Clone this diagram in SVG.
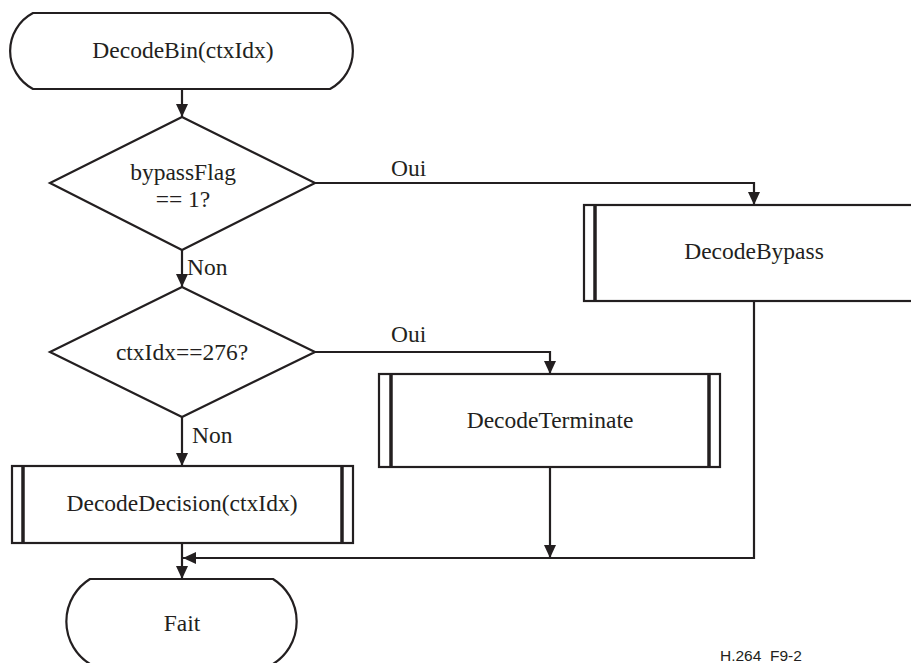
<svg xmlns="http://www.w3.org/2000/svg" width="911" height="663" viewBox="0 0 911 663">
  <style>
    .shape { fill: #ffffff; stroke: #231f20; stroke-width: 2.2; }
    .bar { stroke: #231f20; stroke-width: 3.5; fill: none; }
    .edge { fill: none; stroke: #231f20; stroke-width: 2.2; }
    .lbl { font-family: "Liberation Serif", "DejaVu Serif", "Times New Roman", serif; font-size: 23.5px; fill: #231f20; }
    .mid { text-anchor: middle; }
    .tag { font-family: "Liberation Sans", Arial, sans-serif; font-size: 15.5px; fill: #231f20; }
  </style>
  <defs>
    <marker id="arrow" viewBox="0 0 13 12" refX="13" refY="6" markerWidth="13" markerHeight="12" markerUnits="userSpaceOnUse" orient="auto">
      <path d="M0,0 L13,6 L0,12 Z" fill="#231f20"/>
    </marker>
  </defs>

  <rect width="911" height="663" fill="#ffffff"/>

  <!-- connectors -->
  <g id="connectors">
    <line class="edge" x1="182" y1="89" x2="182" y2="117" marker-end="url(#arrow)"/>
    <line class="edge" x1="182" y1="250" x2="182" y2="287" marker-end="url(#arrow)"/>
    <polyline class="edge" points="315,183 754,183 754,205" marker-end="url(#arrow)"/>
    <polyline class="edge" points="315,352 550,352 550,374" marker-end="url(#arrow)"/>
    <line class="edge" x1="182" y1="417" x2="182" y2="466" marker-end="url(#arrow)"/>
    <line class="edge" x1="182" y1="543" x2="182" y2="579" marker-end="url(#arrow)"/>
    <line class="edge" x1="550" y1="467" x2="550" y2="558" marker-end="url(#arrow)"/>
    <polyline class="edge" points="754,301 754,558 183,558" marker-end="url(#arrow)"/>
    <text class="lbl" x="391" y="176">Oui</text>
    <text class="lbl" x="391" y="342">Oui</text>
    <text class="lbl" x="187" y="275">Non</text>
    <text class="lbl" x="192" y="443">Non</text>
  </g>

  <!-- start terminal -->
  <g id="start">
    <path class="shape" d="M33,13 H330 A43,43 0 0 1 330,89 H33 A43,43 0 0 1 33,13 Z"/>
    <text class="lbl mid" x="183" y="58">DecodeBin(ctxIdx)</text>
  </g>

  <!-- decision: bypass flag -->
  <g id="check-bypass">
    <polygon class="shape" points="182,117 315,183 182,250 50,183"/>
    <text class="lbl mid" x="183" y="180">bypassFlag</text>
    <text class="lbl mid" x="183" y="207">== 1?</text>
  </g>

  <!-- decision: terminate context -->
  <g id="check-terminate">
    <polygon class="shape" points="182,287 315,352 182,417 50,352"/>
    <text class="lbl mid" x="182" y="360">ctxIdx==276?</text>
  </g>

  <!-- bypass decoding process -->
  <g id="decode-bypass">
    <rect class="shape" x="584" y="205" width="340" height="96"/>
    <line class="bar" x1="595" y1="205" x2="595" y2="301"/>
    <text class="lbl mid" x="754" y="259">DecodeBypass</text>
  </g>

  <!-- terminate decoding process -->
  <g id="decode-terminate">
    <rect class="shape" x="379" y="374" width="341" height="93"/>
    <line class="bar" x1="391" y1="374" x2="391" y2="467"/>
    <line class="bar" x1="709" y1="374" x2="709" y2="467"/>
    <text class="lbl mid" x="550" y="428">DecodeTerminate</text>
  </g>

  <!-- regular decision decoding process -->
  <g id="decode-decision">
    <rect class="shape" x="12" y="466" width="341" height="77"/>
    <line class="bar" x1="23" y1="466" x2="23" y2="543"/>
    <line class="bar" x1="342" y1="466" x2="342" y2="543"/>
    <text class="lbl mid" x="182" y="511">DecodeDecision(ctxIdx)</text>
  </g>

  <!-- end terminal -->
  <g id="done">
    <path class="shape" d="M90,579 H273 A50,50 0 0 1 273,664 H90 A50,50 0 0 1 90,579 Z"/>
    <text class="lbl mid" x="182" y="631">Fait</text>
  </g>

  <text class="tag" x="720" y="661" xml:space="preserve">H.264  F9-2</text>
</svg>
